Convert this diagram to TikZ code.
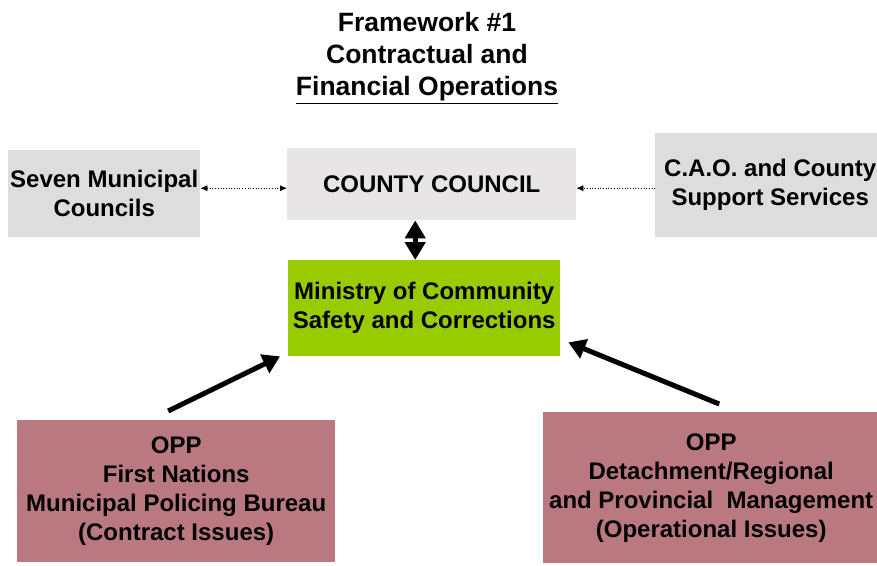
\documentclass[tikz,border=0pt]{standalone}
\usepackage{fontspec}
\setmainfont{Liberation Sans}
\usepackage{tikz}
\usetikzlibrary{arrows.meta}

\definecolor{greybox}{HTML}{DDDDDD}
\definecolor{councilgrey}{HTML}{E7E5E5}
\definecolor{ministrygreen}{HTML}{99CC00}
\definecolor{opprose}{HTML}{BA7980}

\begin{document}
\begin{tikzpicture}[x=1pt, y=-1pt,
  font=\bfseries\fontsize{24}{29}\selectfont,
  box/.style={fill=#1, inner sep=0pt, align=center, anchor=north west},
  thin link/.style={dotted, line width=0.7pt},
  fat link/.style={line width=5pt, -{Triangle[length=17pt,width=20pt]}}]
\useasboundingbox (0,0) rectangle (877,565);

\node[align=center, font=\bfseries\fontsize{26.5}{32}\selectfont] (t1) at (427,58)
  {Framework \#1\\Contractual and\\\underline{Financial Operations}};

\node[box=greybox, minimum width=192pt, minimum height=87pt] (s1) at (8,150) {Seven Municipal\\Councils};
\node[box=councilgrey, minimum width=289pt, minimum height=72pt] (c1) at (287,148) {COUNTY COUNCIL};
\node[box=greybox, minimum width=230pt, minimum height=104pt] (a1) at (655,133) {C.A.O. and County\\Support Services};
\node[box=ministrygreen, minimum width=272pt, minimum height=96pt] (m1) at (288,260) {Ministry of Community\\Safety and Corrections};
\node[box=opprose, minimum width=318pt, minimum height=142pt] (o1) at (17,420)
  {OPP\\First Nations\\Municipal Policing Bureau\\(Contract Issues)};
\node[box=opprose, minimum width=336pt, minimum height=151pt] (o2) at (543,412)
  {OPP\\Detachment/Regional\\and Provincial~ Management\\(Operational Issues)};

\draw[thin link, {Latex[length=7pt,width=6pt]}-{Latex[length=7pt,width=6pt]}]
  ([yshift=5.5pt]s1.east) -- ([yshift=-4pt]c1.west);
\draw[thin link, -{Latex[length=7pt,width=6pt]}]
  ([yshift=-3pt]a1.west) -- ([yshift=-4pt]c1.east);
\draw[line width=5pt, {Triangle[length=18pt,width=20pt]}-{Triangle[length=18pt,width=20pt]}]
  ([xshift=-16.5pt]c1.south) -- ([xshift=-16.5pt]c1.south |- m1.north);
\draw[fat link] ([shift={(-8pt,9pt)}]o1.north) -- ([xshift=-8pt]m1.south west);
\draw[fat link] ([shift={(8pt,8pt)}]o2.north) -- ([shift={(8pt,14pt)}]m1.south east);
\end{tikzpicture}
\end{document}
